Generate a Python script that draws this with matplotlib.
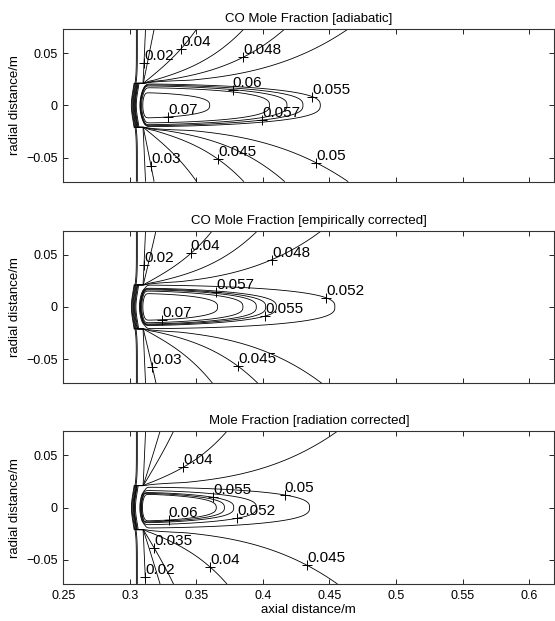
import numpy as np
import matplotlib
matplotlib.use('Agg')
import matplotlib.pyplot as plt

plt.rcParams['font.family'] = ['Liberation Sans', 'DejaVu Sans']

titles = ['CO Mole Fraction [adiabatic]',
          'CO Mole Fraction [empirically corrected]',
          'Mole Fraction [radiation corrected]']

# mole fraction outside the hot core vs. (stretched) angle seen from the flame corner, deg
fan_angle = [[0, 4.1, 10, 19.9, 45.9, 81, 88, 90],
             [0, 5.8, 15.6, 35, 79.4, 88, 90],
             [0, 4.7, 27, 64.7, 76, 88, 90]]
fan_value = [[0.051, 0.05, 0.048, 0.045, 0.04, 0.03, 0.02, 0.018],
             [0.0495, 0.048, 0.045, 0.04, 0.03, 0.02, 0.018],
             [0.0475, 0.045, 0.04, 0.035, 0.03, 0.02, 0.018]]

# closed core contours: level and the axial position of its tip on y = 0
core_tip = [[0.31, 0.36, 0.405, 0.418, 0.43, 0.443, 0.50, 0.62],
            [0.31, 0.366, 0.385, 0.395, 0.402, 0.41, 0.454, 0.52, 0.62],
            [0.31, 0.365, 0.371, 0.378, 0.395, 0.435, 0.50, 0.62]]
core_level = [[0.0725, 0.07, 0.065, 0.06, 0.057, 0.055, 0.052, 0.051],
              [0.0725, 0.07, 0.065, 0.06, 0.057, 0.055, 0.052, 0.0498, 0.0495],
              [0.0625, 0.06, 0.057, 0.055, 0.052, 0.05, 0.048, 0.0475]]

levels = [[0.005, 0.01, 0.02, 0.03, 0.04, 0.045, 0.048, 0.05, 0.055, 0.057, 0.06, 0.065, 0.07],
          [0.005, 0.01, 0.02, 0.03, 0.04, 0.045, 0.048, 0.052, 0.055, 0.057, 0.06, 0.065, 0.07],
          [0.005, 0.01, 0.02, 0.03, 0.035, 0.04, 0.045, 0.05, 0.052, 0.055, 0.057, 0.06]]

# contour labels: level, x, y
label_level = [[0.02, 0.04, 0.048, 0.06, 0.055, 0.07, 0.057, 0.03, 0.045, 0.05],
               [0.02, 0.04, 0.048, 0.057, 0.052, 0.07, 0.055, 0.03, 0.045],
               [0.04, 0.055, 0.05, 0.06, 0.052, 0.035, 0.04, 0.045, 0.02]]
label_x = [[0.3094, 0.3384, 0.3852, 0.377, 0.4369, 0.3289, 0.3995, 0.3159, 0.3665, 0.4399],
           [0.3101, 0.3457, 0.4066, 0.3652, 0.4479, 0.3239, 0.401, 0.3169, 0.3815],
           [0.3397, 0.3627, 0.4166, 0.3294, 0.3815, 0.3184, 0.3615, 0.4329, 0.3114]]
label_y = [[0.0406, 0.054, 0.046, 0.0111, 0.0079, -0.0101, -0.0127, -0.0577, -0.0517, -0.0549],
           [0.0398, 0.051, 0.0452, 0.0156, 0.0108, -0.0067, -0.0058, -0.0578, -0.0569],
           [0.0395, 0.0123, 0.0145, -0.0117, -0.0158, -0.039, -0.0554, -0.0554, -0.066]]

xlim = (0.25, 0.619)
ylim = (-0.073, 0.073)
x_corner = 0.31
core_hw = 0.021

x = np.linspace(xlim[0], xlim[1], 900)
y = np.linspace(ylim[0], ylim[1], 500)
X, Y = np.meshgrid(x, y)


def make_field(k):
    ay = np.abs(Y)
    # outer region: fan of lines leaving the flame corner and bending outwards
    dx = np.maximum(X - x_corner, 1e-6)
    dy = np.maximum(ay - core_hw, 0)
    stretch = 1 + (dx / 0.08) ** 2
    ang = np.degrees(np.arctan2(dy, dx * stretch))
    outer = np.interp(ang, fan_angle[k], fan_value[k])
    front = 0.5 * (1 + np.tanh((X - (0.3055 - 0.003 * np.exp(-(Y / 0.02) ** 2))) / 0.0012))
    # hot core: nested tear-drop shapes
    p, q, Lx = 1.6, 2.8, 0.13
    F = (dx / Lx) ** p + (ay / core_hw) ** q
    F_tab = ((np.array(core_tip[k]) - x_corner) / Lx) ** p
    o0 = fan_value[k][0]
    excess = np.interp(F, F_tab, core_level[k]) - o0
    taper = np.clip(1 - (ay / 0.024) ** 8, 0, None)
    rcore = 0.5 * (1 + np.tanh((X - (0.3085 + 0.004 * (Y / core_hw) ** 2)) / 0.0012))
    return outer * front + excess * taper * rcore


fig = plt.figure(figsize=(5.55, 6.21), dpi=100)
bottoms = [0.7074, 0.3828, 0.0596]

for k in range(3):
    ax = fig.add_axes([0.114, bottoms[k], 0.885, 0.246])
    Z = make_field(k)
    cs = ax.contour(X, Y, Z, levels=levels[k], colors='black', linewidths=0.6)
    sx = 490 / (xlim[1] - xlim[0])
    sy = 153 / (ylim[1] - ylim[0])
    for lev, lx, ly in zip(label_level[k], label_x[k], label_y[k]):
        segs = cs.allsegs[levels[k].index(lev)]
        pts = np.vstack([s for s in segs if len(s)])
        d = ((pts[:, 0] - lx) * sx) ** 2 + ((pts[:, 1] - ly) * sy) ** 2
        px, py = pts[np.argmin(d)]
        ax.plot(px, py, '+', color='black', ms=7, mew=0.7)
        ax.text(px, py, '%g' % lev, ha='left', va='bottom', fontsize=11)
    ax.set_xlim(xlim)
    ax.set_ylim(ylim)
    ax.set_xticks(np.arange(0.25, 0.601, 0.05))
    ax.set_yticks([-0.05, 0, 0.05])
    ax.set_yticklabels(['\u22120.05', '0', '0.05'])
    if k == 2:
        ax.set_xticklabels(['0.25', '0.3', '0.35', '0.4', '0.45', '0.5', '0.55', '0.6'])
        ax.set_xlabel('axial distance/m', fontsize=9.5, labelpad=2)
    else:
        ax.set_xticklabels([])
    ax.tick_params(direction='in', top=True, right=True, length=3.5, width=0.6,
                   labelsize=9, pad=4)
    for sp in ax.spines.values():
        sp.set_color('#333333')
        sp.set_linewidth(0.8)
    ax.set_ylabel('radial distance/m', fontsize=9.5, labelpad=4)
    ax.set_title(titles[k], fontsize=9.5, pad=5)

fig.savefig('out.png', dpi=100)
